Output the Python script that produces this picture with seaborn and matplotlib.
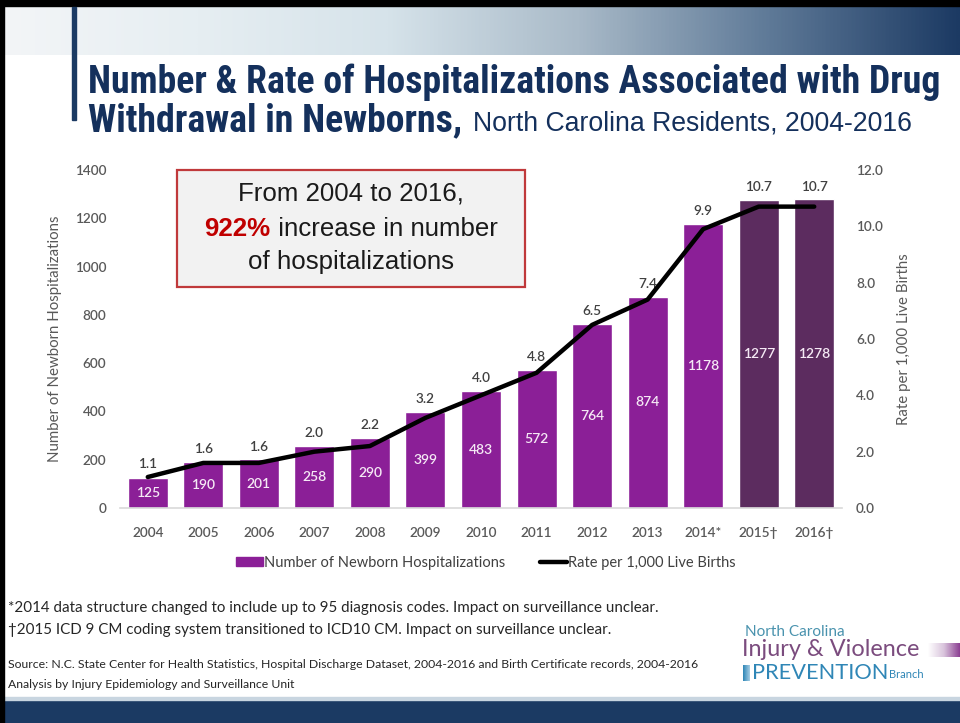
import numpy as np
import pandas as pd
import matplotlib
matplotlib.use("Agg")
import matplotlib.pyplot as plt
import seaborn as sns
from matplotlib.patches import Rectangle
from matplotlib.colors import LinearSegmentedColormap
from matplotlib import font_manager
from matplotlib.font_manager import FontProperties

# ---------------- data ----------------
years = ['2004', '2005', '2006', '2007', '2008', '2009', '2010', '2011',
         '2012', '2013', '2014*', '2015\u2020', '2016\u2020']
counts = [125, 190, 201, 258, 290, 399, 483, 572, 764, 874, 1178, 1277, 1278]
rates = [1.1, 1.6, 1.6, 2.0, 2.2, 3.2, 4.0, 4.8, 6.5, 7.4, 9.9, 10.7, 10.7]
left_ticks = [0, 200, 400, 600, 800, 1000, 1200, 1400]
right_ticks = [0.0, 2.0, 4.0, 6.0, 8.0, 10.0, 12.0]

PURPLE = '#8B1F97'
DARK_PURPLE = '#5C2C5F'
NAVY = '#1B3A63'
TITLE_NAVY = '#14305C'
GREY_TXT = '#595959'

sns.set_theme(style='white')
ttf = font_manager.fontManager.ttflist
names = {f.name for f in ttf}
CAL = 'Lato' if 'Lato' in names else 'DejaVu Sans'
ARIAL = 'Liberation Sans' if 'Liberation Sans' in names else 'DejaVu Sans'
plt.rcParams['font.family'] = [CAL, 'DejaVu Sans']


def is_bold(f):
    w = f.weight
    if isinstance(w, str):
        return w in ('bold', 'heavy', 'extra bold', 'black', 'demibold', 'semibold')
    return w >= 600


def find_narrow_bold():
    prefs = ['Liberation Sans Narrow', 'Roboto Condensed', 'Open Sans Condensed',
             'Noto Sans Condensed', 'DejaVu Sans']
    for p in prefs:
        for f in ttf:
            cond = ('Narrow' in f.name or 'Condensed' in f.name or
                    f.stretch in ('condensed', 'semi-condensed', 'extra-condensed'))
            if (f.name == p or f.name.startswith(p)) and cond and is_bold(f) and f.style == 'normal':
                return FontProperties(fname=f.fname)
    for f in ttf:
        cond = ('Narrow' in f.name or 'Condensed' in f.name or
                f.stretch in ('condensed', 'semi-condensed'))
        if cond and is_bold(f) and f.style == 'normal':
            return FontProperties(fname=f.fname)
    return FontProperties(family=ARIAL, weight='bold')


TITLE_FP = find_narrow_bold()

W, H = 960, 723
fig = plt.figure(figsize=(W / 100, H / 100), dpi=100)
fig.patch.set_facecolor('white')
renderer = fig.canvas.get_renderer()


def fx(px):
    return px / W


def fy(py):
    return 1 - py / H


def fit(t, width_px):
    bb = t.get_window_extent(renderer)
    t.set_fontsize(t.get_fontsize() * width_px / bb.width)
    return t


def xend(t):
    return t.get_window_extent(renderer).x1 / W

# ---------------- slide decorations ----------------
grad = np.linspace(0, 1, 512).reshape(1, -1)
cmap = LinearSegmentedColormap.from_list(
    'ban', ['#f3f5f7', '#e6eef2', '#d6e3ea', '#a9bac8', '#5f7a98', '#1c3a63'])
bax = fig.add_axes([fx(5), fy(55), fx(955), (55 - 7) / H])
bax.imshow(grad, aspect='auto', cmap=cmap, extent=[0, 1, 0, 1])
bax.set_axis_off()

fig.patches.append(Rectangle((0, fy(6)), 1, 6 / H, transform=fig.transFigure,
                             color='black', zorder=5))
fig.patches.append(Rectangle((0, 0), fx(4), 1, transform=fig.transFigure,
                             color='black', zorder=5))
fig.patches.append(Rectangle((fx(72), fy(120)), fx(4), (120 - 7) / H,
                             transform=fig.transFigure, color=NAVY, zorder=5))
fig.patches.append(Rectangle((0, 0), 1, (723 - 700) / H, transform=fig.transFigure,
                             color=NAVY, zorder=4))
fig.patches.append(Rectangle((0, fy(700)), 1, 3 / H, transform=fig.transFigure,
                             color='#c8d5e0', zorder=4))

# ---------------- title ----------------
t1 = fig.text(fx(88), fy(93), 'Number & Rate of Hospitalizations Associated with Drug',
              fontproperties=TITLE_FP, color=TITLE_NAVY,
              va='baseline', ha='left')
t1.set_fontsize(22)
fit(t1, 852)
t2 = fig.text(fx(88), fy(131), 'Withdrawal in Newborns,',
              fontproperties=TITLE_FP, color=TITLE_NAVY,
              va='baseline', ha='left')
t2.set_fontsize(22)
fit(t2, 374)
t3 = fig.text(fx(473), fy(131), 'North Carolina Residents, 2004-2016',
              fontsize=18, color=TITLE_NAVY, family=ARIAL, va='baseline', ha='left')
fit(t3, 439)

# ---------------- chart ----------------
ax = fig.add_axes([fx(120), fy(508), fx(722), (508 - 170) / H])
df = pd.DataFrame({'year': years, 'count': counts, 'rate': rates})
palette = [PURPLE] * 11 + [DARK_PURPLE] * 2
sns.barplot(data=df, x='year', y='count', hue='year', palette=palette,
            order=years, hue_order=years, width=0.72, legend=False,
            saturation=1, ax=ax, zorder=2)
ax.set_ylim(0, 1400)
ax.set_xlim(-0.5, len(years) - 0.5)
ax.set_yticks(left_ticks)
ax.set_yticklabels([str(v) for v in left_ticks])
ax.tick_params(axis='both', length=0, labelsize=9.8, labelcolor=GREY_TXT)
ax.tick_params(axis='y', pad=10)
ax.tick_params(axis='x', pad=14)
for lab in ax.get_xticklabels() + ax.get_yticklabels():
    lab.set_fontweight('semibold')
ax.set_xlabel('')
ax.set_ylabel('Number of Newborn Hospitalizations', fontsize=10.8,
              color=GREY_TXT, labelpad=9)
for s in ['top', 'right', 'left']:
    ax.spines[s].set_visible(False)
ax.spines['bottom'].set_color('#d9d9d9')
ax.spines['bottom'].set_linewidth(1.2)

ax2 = ax.twinx()
xpos = np.arange(len(years))
sns.lineplot(x=xpos, y=rates, color='black', linewidth=3.2, ax=ax2, zorder=3)
ax2.set_ylim(0, 12)
ax2.set_xlim(-0.5, len(years) - 0.5)
ax2.set_yticks(right_ticks)
ax2.set_yticklabels([f'{v:.1f}' for v in right_ticks])
ax2.tick_params(axis='y', length=0, labelsize=9.8, labelcolor=GREY_TXT, pad=10)
for lab in ax2.get_yticklabels():
    lab.set_fontweight('semibold')
ax2.set_ylabel('Rate per 1,000 Live Births', fontsize=10.8, color=GREY_TXT, labelpad=10)
for s in ['top', 'right', 'left', 'bottom']:
    ax2.spines[s].set_visible(False)

# labels
for i, (c, r) in enumerate(zip(counts, rates)):
    ax.text(i, c / 2, str(c), ha='center', va='center', fontsize=10,
            color='#f5e9f5', fontweight='semibold', zorder=5)
    top = max(c, r * 1400 / 12)
    ax.annotate(f'{r:.1f}', xy=(i, top), xytext=(0, 5), textcoords='offset points',
                ha='center', va='bottom', fontsize=9.8, color='#404040',
                fontweight='semibold', zorder=5)

# annotation box
fig.patches.append(Rectangle((fx(177), fy(287)), fx(348), 117 / H,
                             transform=fig.transFigure, facecolor='#f2f2f2',
                             edgecolor='#c0393b', linewidth=1.6, zorder=6))
bx = fx(351)
a1 = fig.text(bx, fy(194), 'From 2004 to 2016,', ha='center', va='center',
              fontsize=16.5, color='#1a1a1a', family=ARIAL, zorder=7)
fit(a1, 225)
fs = a1.get_fontsize()
p1 = fig.text(0, fy(236), '922%', ha='left', va='baseline', fontsize=fs,
              fontweight='bold', color='#C00000', family=ARIAL, zorder=7)
p2 = fig.text(0, fy(236), ' increase in number', ha='left', va='baseline',
              fontsize=fs, color='#1a1a1a', family=ARIAL, zorder=7)
w1 = p1.get_window_extent(renderer).width
w2 = p2.get_window_extent(renderer).width
start = 351 - (w1 + w2) / 2
p1.set_x(fx(start))
p2.set_x(fx(start + w1))
a3 = fig.text(bx, fy(262), 'of hospitalizations', ha='center', va='center',
              fontsize=fs, color='#1a1a1a', family=ARIAL, zorder=7)

# legend
handles = [Rectangle((0, 0), 1, 1, color=PURPLE),
           plt.Line2D([0], [0], color='black', linewidth=3.2)]
fig.legend(handles, ['Number of Newborn Hospitalizations', 'Rate per 1,000 Live Births'],
           loc='center', bbox_to_anchor=(fx(486), fy(563)), ncol=2, frameon=False,
           fontsize=10.5, labelcolor='#404040', handlelength=1.8, handleheight=0.55,
           handletextpad=0.1, columnspacing=2.4)

# footnotes
n1 = fig.text(fx(8), fy(608), '*2014 data structure changed to include up to 95 diagnosis codes. '
              'Impact on surveillance unclear.', fontsize=9.5, color='#262626',
              va='center', ha='left')
fit(n1, 652)
n2 = fig.text(fx(8), fy(630), '\u20202015 ICD 9 CM coding system transitioned to ICD10 CM. '
              'Impact on surveillance unclear.', fontsize=n1.get_fontsize(),
              color='#262626', va='center', ha='left')
s1 = fig.text(fx(8), fy(665), 'Source: N.C. State Center for Health Statistics, Hospital '
              'Discharge Dataset, 2004-2016 and Birth Certificate records, 2004-2016',
              fontsize=8, color='#262626', va='center', ha='left')
fit(s1, 692)
s2 = fig.text(fx(8), fy(685), 'Analysis by Injury Epidemiology and Surveillance Unit',
              fontsize=s1.get_fontsize(), color='#262626', va='center', ha='left')

# logo
l1 = fig.text(fx(745), fy(632), 'North Carolina', fontsize=9, color='#4a93ae',
              va='center', ha='left')
fit(l1, 100)
l2 = fig.text(fx(742), fy(650), 'Injury & Violence', fontsize=14, color='#7b4c7e',
              va='center', ha='left')
fit(l2, 178)
l3 = fig.text(fx(752), fy(673), 'PREVENTION', fontsize=14, color='#2f86b6',
              va='center', ha='left')
fit(l3, 136)
l4 = fig.text(xend(l3) + fx(1), fy(675), 'Branch', fontsize=8, color='#2f86b6',
              va='center', ha='left')
gax = fig.add_axes([fx(928), fy(657), fx(32), 14 / H])
gax.imshow(grad, aspect='auto', extent=[0, 1, 0, 1],
           cmap=LinearSegmentedColormap.from_list('p', ['#ffffff', '#d9c4dc', '#8b3f92']))
gax.set_axis_off()
gax2 = fig.add_axes([fx(743), fy(681), fx(7), 16 / H])
gax2.imshow(grad, aspect='auto', extent=[0, 1, 0, 1],
            cmap=LinearSegmentedColormap.from_list('b', ['#2f86b6', '#a9d0e6']))
gax2.set_axis_off()

fig.savefig('out.png', dpi=100)
